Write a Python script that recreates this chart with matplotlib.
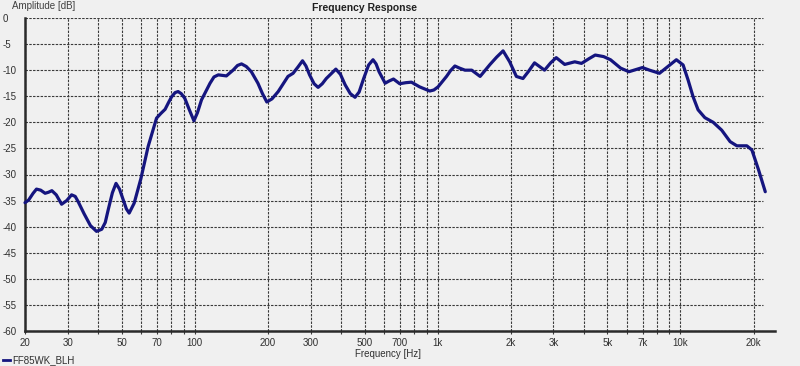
import matplotlib
matplotlib.use("Agg")
import matplotlib.pyplot as plt
import numpy as np

# ---- data ----
freq_hz = [20.0, 20.7, 21.6, 22.3, 23.2, 24.2, 25.0, 25.8, 26.9, 28.3, 29.7, 31.1, 32.2, 33.1,
           35.0, 37.2, 39.4, 41.4, 42.8, 44.0, 45.8, 47.4, 49.0, 50.8, 52.3, 53.7, 56.3, 60.0,
           64.3, 69.6, 72.5, 75.5, 78.0, 80.3, 83.0, 85.4, 88.0, 91.0, 95.0, 99.2, 102.5, 106.6,
           115.6, 120.0, 125.0, 135.0, 143.8, 150.0, 155.8, 163.0, 171.0, 182.0, 190.0, 198.0,
           208.0, 220.6, 242.0, 254.0, 266.0, 277.8, 287.0, 297.0, 310.0, 322.0, 335.0, 348.0,
           381.0, 398.0, 416.0, 437.0, 457.0, 475.0, 496.0, 520.0, 542.0, 558.0, 574.0, 608.0,
           630.0, 658.0, 698.0, 740.0, 780.0, 843.0, 928.0, 965.0, 1004.0, 1088.0, 1130.0, 1178.0,
           1230.0, 1296.0, 1382.0, 1496.0, 1644.0, 1750.0, 1860.0, 1980.0, 2110.0, 2246.0, 2370.0,
           2506.0, 2756.0, 2920.0, 3078.0, 3336.0, 3670.0, 3912.0, 4200.0, 4456.0, 4826.0, 5150.0,
           5666.0, 6134.0, 6550.0, 6972.0, 7456.0, 8192.0, 8870.0, 9616.0, 10252.0, 10750.0,
           11270.0, 11816.0, 12596.0, 13640.0, 14780.0, 16010.0, 17060.0, 18760.0, 19680.0,
           20960.0, 22340.0]
level_db = [-35.4, -34.9, -33.6, -32.8, -33.0, -33.6, -33.4, -33.1, -33.9, -35.7, -35.0, -33.9, -34.2, -35.2,
            -37.5, -39.8, -40.9, -40.5, -39.2, -36.8, -33.5, -31.7, -32.8, -34.9, -36.6, -37.4, -35.5, -30.8,
            -24.6, -19.2, -18.3, -17.5, -16.2, -15.1, -14.3, -14.1, -14.5, -15.4, -17.6, -19.7, -18.2, -15.7,
            -12.5, -11.3, -10.9, -11.1, -10.0, -9.1, -8.8, -9.3, -10.3, -12.5, -14.5, -16.1,
            -15.5, -14.1, -11.2, -10.6, -9.4, -8.2, -9.2, -10.9, -12.6, -13.3, -12.6, -11.6,
            -9.8, -10.8, -12.8, -14.5, -15.2, -14.2, -11.6, -9.0, -8.0, -8.8, -10.3, -12.5,
            -12.1, -11.7, -12.6, -12.4, -12.3, -13.2, -14.0, -13.8, -13.2, -11.2, -10.1, -9.2,
            -9.6, -10.0, -10.0, -11.2, -8.9, -7.5, -6.3, -8.4, -11.2, -11.6, -10.2,
            -8.6, -10.0, -8.6, -7.6, -8.9, -8.4, -8.7, -7.8, -7.1, -7.4, -8.0,
            -9.6, -10.3, -9.9, -9.5, -10.0, -10.6, -9.3, -8.0, -9.0, -11.9,
            -15.1, -17.6, -19.1, -20.0, -21.5, -23.7, -24.5, -24.5, -25.3,
            -29.1, -33.3]

x_tick_values = [20, 30, 50, 70, 100, 200, 300, 500, 700, 1000, 2000, 3000, 5000, 7000, 10000, 20000]
x_tick_labels = ["20", "30", "50", "70", "100", "200", "300", "500", "700", "1k", "2k", "3k", "5k", "7k", "10k", "20k"]
x_grid_values = [20, 30, 40, 50, 60, 70, 80, 90, 100, 200, 300, 400, 500, 600, 700, 800, 900,
                 1000, 2000, 3000, 4000, 5000, 6000, 7000, 8000, 9000, 10000, 20000]
y_tick_values = [0, -5, -10, -15, -20, -25, -30, -35, -40, -45, -50, -55, -60]
y_tick_labels = ["0", "-5", "-10", "-15", "-20", "-25", "-30", "-35", "-40", "-45", "-50", "-55", "-60"]

series_name = "FF85WK_BLH"
title = "Frequency Response"
x_label = "Frequency [Hz]"
y_label = "Amplitude [dB]"

# ---- styling ----
bg = "#f0f0f0"
line_color = "#15157f"
grid_color = "#3a3a3a"
plt.rcParams["font.family"] = ["Liberation Sans", "DejaVu Sans"]

fig = plt.figure(figsize=(8.0, 3.66), dpi=100, facecolor=bg)
ax = fig.add_axes([25 / 800, 1 - 331 / 366, 750 / 800, 313 / 366])
ax.set_facecolor(bg)
ax.set_xscale("log")
x_min, x_max, grid_end = 20, 24500, 21900
ax.set_xlim(x_min, x_max)
ax.set_ylim(-60, 0)

dash = (0, (2.2, 1.2))
ax.hlines(y_tick_values, x_min, grid_end, colors=grid_color, linestyles=dash, linewidth=0.8, zorder=1)
ax.vlines(x_grid_values, -60, 0, colors=grid_color, linestyles=dash, linewidth=0.8, zorder=1)

ax.plot(freq_hz, level_db, color=line_color, linewidth=2.3, solid_joinstyle="round",
        solid_capstyle="round", zorder=3, clip_on=False)

for s in ["top", "right"]:
    ax.spines[s].set_visible(False)
for s in ["left", "bottom"]:
    ax.spines[s].set_linewidth(1.8)
    ax.spines[s].set_color("#2a2a2a")

ax.set_xticks(x_tick_values)
ax.set_xticklabels(x_tick_labels)
ax.set_xticks([v for v in x_grid_values if v not in x_tick_values], minor=True)
ax.xaxis.set_minor_formatter(matplotlib.ticker.NullFormatter())
ax.tick_params(axis="x", which="both", length=2.5, width=0.8, color=grid_color, pad=2.5,
               labelsize=7, labelcolor="#303030")

ax.set_yticks(y_tick_values)
ax.set_yticklabels(y_tick_labels)
ax.tick_params(axis="y", length=0, pad=16.0, labelsize=7, labelcolor="#303030")
for lbl in ax.get_yticklabels():
    lbl.set_horizontalalignment("left")

fig.text(365 / 800, 1 - 8 / 366, title, ha="center", va="center", fontsize=7.5,
         fontweight="bold", color="#202020")
fig.text(12 / 800, 1 - 6 / 366, y_label, ha="left", va="center", fontsize=7, color="#404040")
fig.text(388 / 800, 1 - 354 / 366, x_label, ha="center", va="center", fontsize=7, color="#303030")

# legend
fig.add_artist(plt.Line2D([3 / 800, 10 / 800], [1 - 360 / 366, 1 - 360 / 366],
                          color=line_color, linewidth=2.0))
fig.text(12 / 800, 1 - 363 / 366, series_name, ha="left", va="baseline", fontsize=7, color="#303030")

fig.savefig("out.png", dpi=100, facecolor=bg)
